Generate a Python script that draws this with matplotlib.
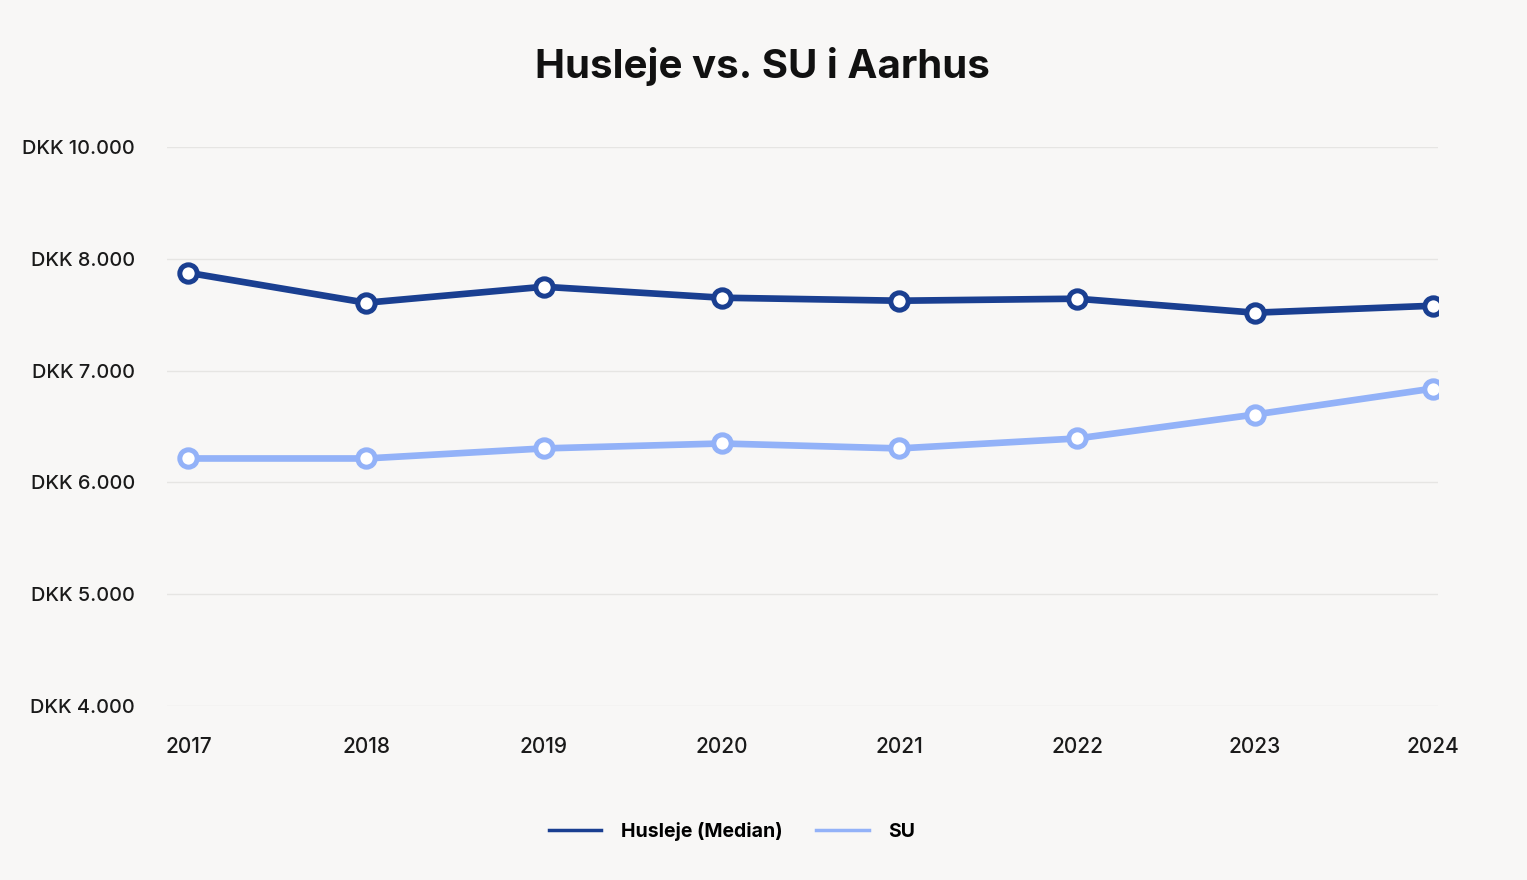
import matplotlib.pyplot as plt
from matplotlib.lines import Line2D

years = [2017, 2018, 2019, 2020, 2021, 2022, 2023, 2024]
husleje = [7875, 7607, 7750, 7652, 7625, 7643, 7518, 7580]
su = [6214, 6214, 6304, 6348, 6304, 6393, 6607, 6839]

y_ticks = [4000, 5000, 6000, 7000, 8000, 9000]
y_labels = ['DKK 4.000', 'DKK 5.000', 'DKK 6.000', 'DKK 7.000', 'DKK 8.000', 'DKK 10.000']

dark = '#1a3f91'
light = '#93b2f8'
bg = '#f8f7f6'

plt.rcParams['font.family'] = ['Inter', 'DejaVu Sans']

fig = plt.figure(figsize=(15.27, 8.8), dpi=100, facecolor=bg)
ax = fig.add_axes([167 / 1527, 1 - 706 / 880, (1438 - 167) / 1527, (706 - 147) / 880])
ax.set_facecolor(bg)

ax.plot(years, husleje, color=dark, lw=4.8, marker='o', ms=12.5,
        mfc='white', mec=dark, mew=3.6, zorder=3, label='Husleje (Median)')
ax.plot(years, su, color=light, lw=4.8, marker='o', ms=12.5,
        mfc='white', mec=light, mew=3.6, zorder=3, label='SU')

ax.set_xlim(2016.88, 2024.03)
ax.set_ylim(4000, 9000)
ax.set_xticks(years)
ax.set_xticklabels([str(y) for y in years], fontsize=15, fontweight='medium', color='#1a1a1a')
ax.set_yticks(y_ticks)
ax.set_yticklabels(y_labels, fontsize=14.3, fontweight='medium', color='#1a1a1a')
ax.tick_params(axis='both', length=0)
ax.tick_params(axis='x', pad=22)
ax.tick_params(axis='y', pad=23)
ax.grid(axis='y', color='#e6e5e3', lw=1)
ax.set_axisbelow(True)
for s in ax.spines.values():
    s.set_visible(False)

fig.text(762 / 1527, 1 - 67 / 880, 'Husleje vs. SU i Aarhus', ha='center', va='center',
         fontsize=29, fontweight='bold', color='#111111')

handles = [Line2D([], [], color=dark, lw=2.5), Line2D([], [], color=light, lw=2.5)]
fig.legend(handles, ['Husleje (Median)', 'SU'], loc='center', bbox_to_anchor=(732 / 1527, 1 - 831 / 880),
           ncol=2, frameon=False, prop={'size': 14, 'weight': 'bold'},
           handlelength=2.7, handletextpad=1.0, columnspacing=1.75)

fig.savefig('out.png', dpi=100, facecolor=bg)
